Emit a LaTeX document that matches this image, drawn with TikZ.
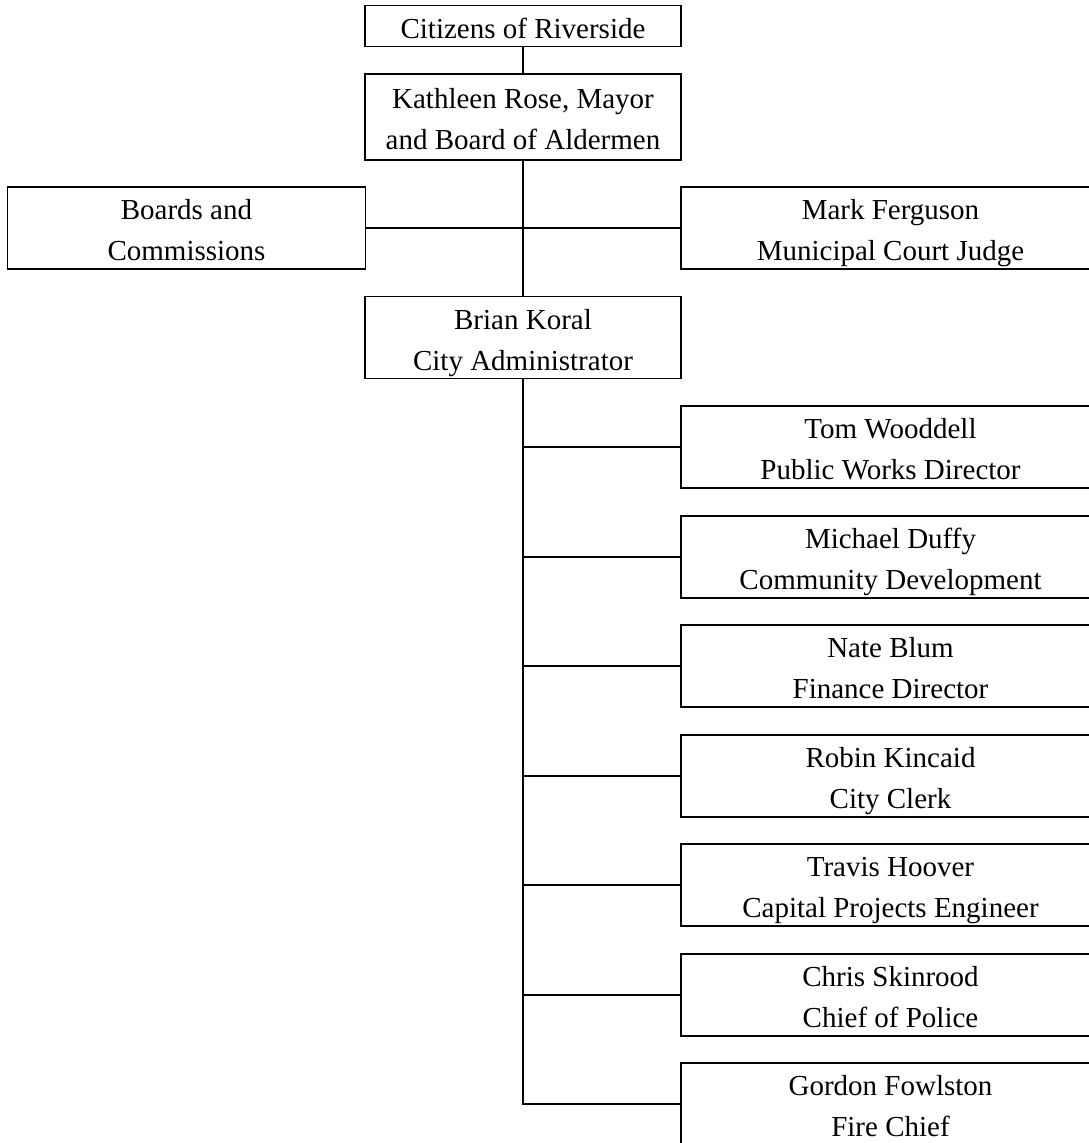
\documentclass[tikz,border=0pt]{standalone}
\usepackage{fontspec}
\setmainfont{Liberation Serif}
\newcommand\tstr{\rule{0pt}{36.7pt}}
\begin{document}
\begin{tikzpicture}[x=1pt,y=-1pt,
  box/.style={draw,line width=1.2pt,rectangle,inner xsep=0pt,inner ysep=-4pt,align=center,
    font=\fontsize{29}{41}\selectfont},
  link/.style={line width=1.2pt}]
\useasboundingbox (0,0) rectangle (1089,1143);
\node[box,minimum width=316pt,minimum height=40pt] (cit) at (523,26) {\tstr\strut Citizens of Riverside};
\node[box,minimum width=316pt,minimum height=86pt] (kat) at (523,117) {\tstr Kathleen Rose, Mayor\\\strut and Board of Aldermen};
\node[box,minimum width=358pt,minimum height=81.5pt] (boa) at (186.5,228) {\tstr Boards and\\\strut Commissions};
\node[box,minimum width=419pt,minimum height=81.5pt] (fer) at (890.5,228) {\tstr Mark Ferguson\\\strut Municipal Court Judge};
\node[box,minimum width=316pt,minimum height=81pt] (bri) at (523,337.5) {\tstr Brian Koral\\\strut City Administrator};
\node[box,minimum width=419pt,minimum height=82pt] (tom) at (890.5,447) {\tstr Tom Wooddell\\\strut Public Works Director};
\node[box,minimum width=419pt,minimum height=82pt] (mic) at (890.5,557) {\tstr Michael Duffy\\\strut Community Development};
\node[box,minimum width=419pt,minimum height=82pt] (nat) at (890.5,666) {\tstr Nate Blum\\\strut Finance Director};
\node[box,minimum width=419pt,minimum height=82pt] (rob) at (890.5,776) {\tstr Robin Kincaid\\\strut City Clerk};
\node[box,minimum width=419pt,minimum height=82pt] (tra) at (890.5,885) {\tstr Travis Hoover\\\strut Capital Projects Engineer};
\node[box,minimum width=419pt,minimum height=82pt] (chr) at (890.5,995) {\tstr Chris Skinrood\\\strut Chief of Police};
\node[box,minimum width=419pt,minimum height=82pt] (gor) at (890.5,1104) {\tstr Gordon Fowlston\\\strut Fire Chief};
\draw[link] (cit) -- (kat);
\draw[link] (kat) -- (bri);
\draw[link] (boa) -- (fer);
\draw[link] (bri.south) -- (bri.south |- gor.west) -- (gor.west);
\foreach \n in {tom,mic,nat,rob,tra,chr}
  \draw[link] (bri.south |- \n.west) -- (\n.west);
\end{tikzpicture}
\end{document}
